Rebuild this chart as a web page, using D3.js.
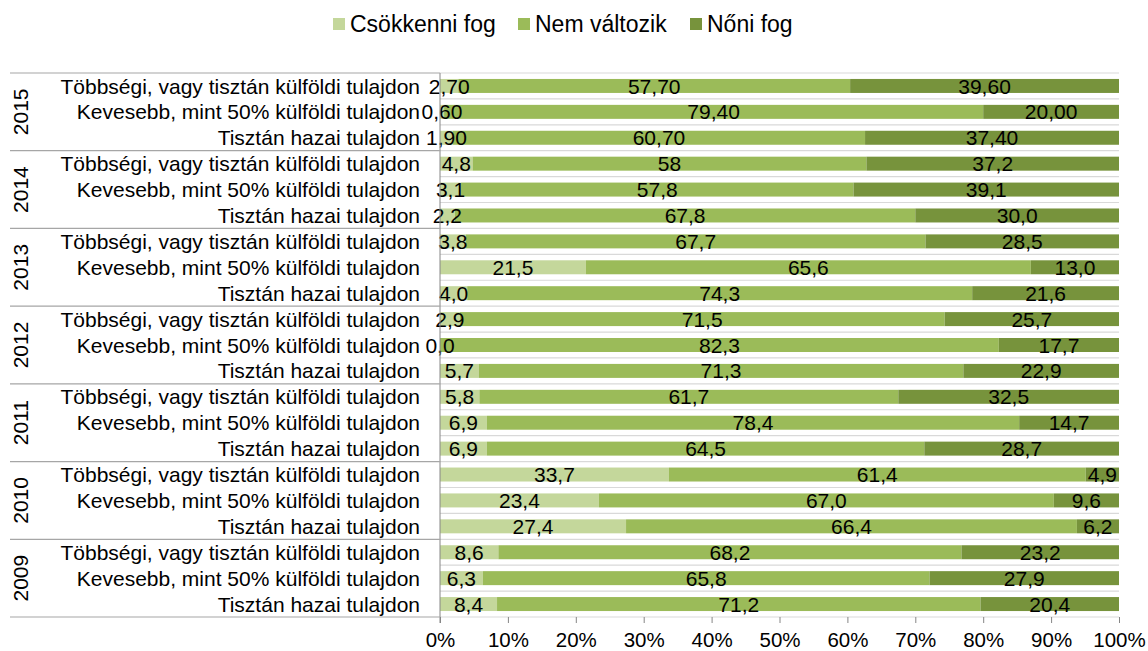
<!DOCTYPE html>
<html>
<head>
<meta charset="utf-8">
<script src="https://cdn.jsdelivr.net/npm/d3@7"></script>
<style>
  body { margin: 0; background: #fff; }
  text { font-family: "Liberation Sans", Arial, sans-serif; fill: #000; }
</style>
</head>
<body>
<div id="chart"></div>
<script>
// years top to bottom, each with three ownership categories
const years = ["2015", "2014", "2013", "2012", "2011", "2010", "2009"]
const categories = ["Többségi, vagy tisztán külföldi tulajdon", "Kevesebb, mint 50% külföldi tulajdon", "Tisztán hazai tulajdon"]
const seriesNames = ["Csökkenni fog", "Nem változik", "Nőni fog"]

// labels as printed in the chart (one per row, top to bottom)
const csokkenni = ["2,70","0,60","1,90", "4,8","3,1","2,2", "3,8","21,5","4,0", "2,9","0,0","5,7", "5,8","6,9","6,9", "33,7","23,4","27,4", "8,6","6,3","8,4"]
const nemValtozik = ["57,70","79,40","60,70", "58","57,8","67,8", "67,7","65,6","74,3", "71,5","82,3","71,3", "61,7","78,4","64,5", "61,4","67,0","66,4", "68,2","65,8","71,2"]
const noni = ["39,60","20,00","37,40", "37,2","39,1","30,0", "28,5","13,0","21,6", "25,7","17,7","22,9", "32,5","14,7","28,7", "4,9","9,6","6,2", "23,2","27,9","20,4"]

const tickLabels = ["0%","10%","20%","30%","40%","50%","60%","70%","80%","90%","100%"]
const colors = ["#c4d79b", "#9bbb59", "#77933c"]

const W = 1148, H = 651
const pLeft = 440, pRight = 1119, pTop = 73, pBottom = 617

const svg = d3.select("#chart").append("svg").attr("width", W).attr("height", H)

// build rows
const rows = []
years.forEach((y, yi) => {
  categories.forEach((c, ci) => {
    const i = yi * 3 + ci
    const labs = [csokkenni[i], nemValtozik[i], noni[i]]
    const vals = labs.map(s => +s.replace(",", "."))
    rows.push({ key: y + "|" + c, year: y, cat: c, labs: labs, vals: vals })
  })
})

const x = d3.scaleLinear().domain([0, 1]).range([pLeft, pRight])
const yb = d3.scaleBand().domain(rows.map(d => d.key)).range([pTop, pBottom]).paddingInner(0.46).paddingOuter(0.23)
const rowH = (pBottom - pTop) / rows.length

// horizontal gridlines at row boundaries
const bounds = d3.range(rows.length + 1).map(i => pTop + i * rowH)
svg.append("g").selectAll("line").data(bounds).join("line")
  .attr("x1", pLeft).attr("x2", pRight)
  .attr("y1", d => d).attr("y2", d => d)
  .attr("stroke", "#d9d9d9").attr("stroke-width", 1.2)

// stacked bars
const stack = rows.map(r => {
  const sum = d3.sum(r.vals)
  let acc = 0
  return r.vals.map((v, k) => {
    const s = { row: r, k: k, x0: acc / sum, x1: (acc + v) / sum, lab: r.labs[k] }
    acc += v
    return s
  })
}).flat()

svg.append("g").selectAll("rect").data(stack).join("rect")
  .attr("x", d => x(d.x0))
  .attr("width", d => x(d.x1) - x(d.x0))
  .attr("y", d => yb(d.row.key))
  .attr("height", yb.bandwidth())
  .attr("fill", d => colors[d.k])

// data labels
svg.append("g").selectAll("text").data(stack).join("text")
  .attr("x", d => (x(d.x0) + x(d.x1)) / 2)
  .attr("y", d => yb(d.row.key) + yb.bandwidth() / 2)
  .attr("dy", "0.36em")
  .attr("text-anchor", "middle")
  .style("font-size", "21px")
  .text(d => d.lab)

// category axis line
svg.append("line").attr("x1", pLeft).attr("x2", pLeft).attr("y1", pTop).attr("y2", pBottom + 6)
  .attr("stroke", "#868686").attr("stroke-width", 1)

// year group separators
const sep = d3.range(years.length + 1).map(i => pTop + i * 3 * rowH)
svg.append("g").selectAll("line").data(sep).join("line")
  .attr("x1", 10).attr("x2", pLeft)
  .attr("y1", d => d).attr("y2", d => d)
  .attr("stroke", "#a6a6a6").attr("stroke-width", 1.2)

// category labels
svg.append("g").selectAll("text").data(rows).join("text")
  .attr("x", 420)
  .attr("y", d => yb(d.key) + yb.bandwidth() / 2)
  .attr("dy", "0.36em")
  .attr("text-anchor", "end")
  .style("font-size", "21px")
  .text(d => d.cat)

// year labels
svg.append("g").selectAll("text").data(years).join("text")
  .attr("transform", (d, i) => `translate(28,${pTop + (i * 3 + 1.5) * rowH}) rotate(-90)`)
  .attr("text-anchor", "middle")
  .style("font-size", "21px")
  .text(d => d)

// x axis
const xAxis = d3.axisBottom(x).tickValues(d3.range(0, 1.0001, 0.1)).tickSize(6).tickPadding(9)
  .tickFormat((d, i) => tickLabels[i])
const gx = svg.append("g").attr("transform", `translate(0,${pBottom})`).call(xAxis)
gx.select(".domain").remove()
gx.selectAll("line").attr("stroke", "#868686")
gx.selectAll("text").style("font-size", "20.5px").attr("fill", "#000")
  .style("font-family", '"Liberation Sans", Arial, sans-serif')

// legend
const legX = [333, 518, 690]
const leg = svg.append("g").selectAll("g").data(seriesNames).join("g")
  .attr("transform", (d, i) => `translate(${legX[i]},24)`)
leg.append("rect").attr("x", 0).attr("y", -6).attr("width", 12).attr("height", 12).attr("fill", (d, i) => colors[i])
leg.append("text").attr("x", 17).attr("dy", "0.36em").style("font-size", "23px").text(d => d)
</script>
</body>
</html>
